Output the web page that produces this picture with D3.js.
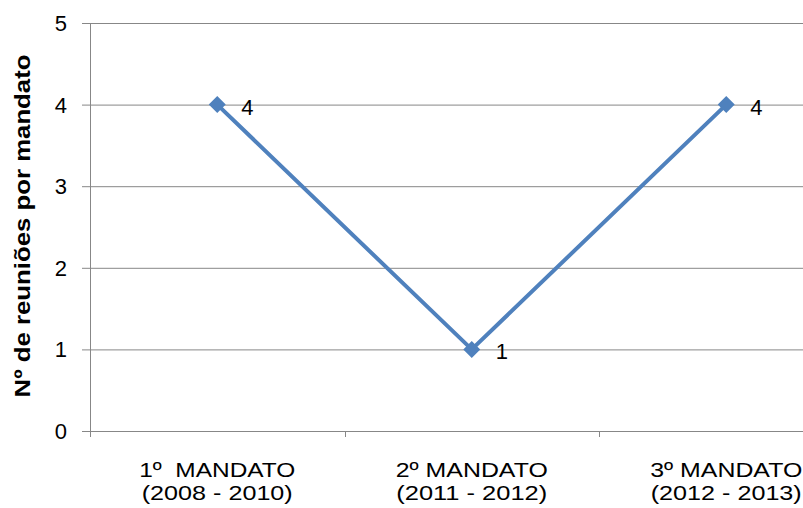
<!DOCTYPE html>
<html><head><meta charset="utf-8">
<script src="https://cdn.jsdelivr.net/npm/d3@7"></script>
<style>html,body{margin:0;padding:0;background:#fff;overflow:hidden} text{white-space:pre}</style>
</head><body>
<script>
const categoriesLine1 = ["1º  MANDATO", "2º MANDATO", "3º MANDATO"];
const categoriesLine2 = ["(2008 - 2010)", "(2011 - 2012)", "(2012 - 2013)"];
const values = [4, 1, 4];
const yTicks = [0, 1, 2, 3, 4, 5];
const yTitle = "Nº de reuniões por mandato";

const W = 803, H = 508;
const svg = d3.select("body").append("svg").attr("width", W).attr("height", H);
const font = "'Liberation Sans', Arial, sans-serif";

const x = d3.scaleBand().domain(d3.range(values.length)).range([90, 853.5]);
const y = d3.scaleLinear().domain([0, 5]).range([431, 23]);
const grid = "#878787";

svg.append("g").selectAll("line").data(yTicks).join("line")
  .attr("x1", 82).attr("x2", W).attr("y1", d => y(d) + 0.5).attr("y2", d => y(d) + 0.5)
  .attr("stroke", grid).attr("stroke-width", 1);
svg.append("line").attr("x1", 90.5).attr("x2", 90.5).attr("y1", y(5)).attr("y2", y(0) + 6)
  .attr("stroke", grid);
svg.append("g").selectAll("line").data(d3.range(values.length + 1)).join("line")
  .attr("x1", d => Math.round(90 + d * x.bandwidth()) + 0.5)
  .attr("x2", d => Math.round(90 + d * x.bandwidth()) + 0.5)
  .attr("y1", y(0)).attr("y2", y(0) + 6).attr("stroke", grid);

svg.append("g").selectAll("text").data(yTicks).join("text")
  .attr("x", 67).attr("y", d => y(d) + 8).attr("text-anchor", "end")
  .attr("font-family", font).attr("font-size", 22).attr("fill", "#000").text(d => d);

svg.append("text").attr("transform", `translate(30,${226}) rotate(-90)`)
  .attr("text-anchor", "middle").attr("font-family", font).attr("font-weight", "bold")
  .attr("font-size", 22).attr("textLength", 343).attr("lengthAdjust", "spacingAndGlyphs")
  .attr("fill", "#000").text(yTitle);

const cx = i => x(i) + x.bandwidth() / 2;
const w1 = [156, 152, 152];
const cat = svg.append("g").selectAll("text").data(categoriesLine1).join("text")
  .attr("font-family", font).attr("font-size", 20.5).attr("fill", "#000");
cat.append("tspan")
  .attr("x", (d, i) => cx(i) - w1[i] / 2).attr("y", 477)
  .attr("textLength", (d, i) => w1[i]).attr("lengthAdjust", "spacingAndGlyphs")
  .text(d => d);
cat.append("tspan")
  .attr("x", (d, i) => cx(i) - 151 / 2).attr("y", 500)
  .attr("textLength", 151).attr("lengthAdjust", "spacingAndGlyphs")
  .text((d, i) => categoriesLine2[i]);

const color = "#4F81BD";
svg.append("path").datum(values)
  .attr("d", d3.line().x((d, i) => cx(i)).y(d => y(d)))
  .attr("fill", "none").attr("stroke", color).attr("stroke-width", 4).attr("stroke-linejoin", "round");

svg.append("g").selectAll("path").data(values).join("path")
  .attr("transform", (d, i) => `translate(${cx(i)},${y(d)})`)
  .attr("d", "M0,-8.5L8.5,0L0,8.5L-8.5,0Z").attr("fill", color);

svg.append("g").selectAll("text").data(values).join("text")
  .attr("x", (d, i) => cx(i) + 24).attr("y", d => y(d) + 10)
  .attr("font-family", font).attr("font-size", 22).attr("fill", "#000").text(d => d);
</script>
</body></html>
